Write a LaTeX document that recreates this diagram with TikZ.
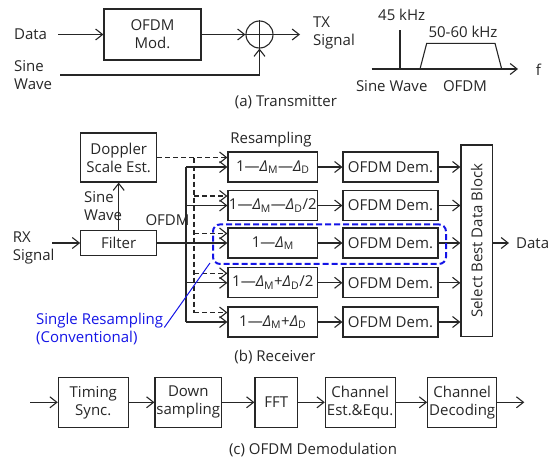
\documentclass[tikz,border=0pt]{standalone}
\usepackage{fontspec}
\setmainfont{Open Sans}
\usetikzlibrary{arrows.meta}
\definecolor{bl}{RGB}{20,20,230}
\newcommand\dlM{\textit{Δ}\textsubscript{M}}
\newcommand\dlD{\textit{Δ}\textsubscript{D}}
\begin{document}
\begin{tikzpicture}[x=1pt,y=-1pt,
  every node/.style={font=\fontsize{15}{18}\selectfont, text=black!85},
  ln/.style={line width=1.1pt, draw=black!85},
  arr/.style={ln, -{Straight Barb[length=7pt,width=11pt,line width=1.1pt]}},
  box/.style={ln, draw, rectangle, inner sep=0pt, align=center},
  lbl/.style={inner sep=0pt, align=left},
  dsh/.style={dash pattern=on 5pt off 3pt},
]
\useasboundingbox (0,0) rectangle (552,458);

% ---------------- (a) Transmitter
\node[box, minimum width=97pt, minimum height=51pt] (mod) at (152.5,34.5) {OFDM\\Mod.};
\node[lbl] (data) at (30.6,34.5) {Data};
\node[lbl, anchor=west] (sinetx) at (14,75) {Sine\\Wave};
\node[circle, ln, draw, minimum size=27pt, inner sep=0pt] (sum) at (259.5,34.5) {};
\draw[ln] (sum.north) -- (sum.south) (sum.west) -- (sum.east);
\node[lbl, anchor=west] (tx) at (313,33) {TX\\Signal};
\coordinate (txend) at (300,34.5);
\draw[arr] ([xshift=11pt]data.east) -- (mod.west);
\draw[arr] (mod.east) -- (sum.west);
\draw[arr] (sum.east) -- (txend);
\draw[arr] ([xshift=8pt]sinetx.east) -| (sum.south);

% spectrum
\coordinate (ax0) at (371.7,69);
\coordinate (ax1) at (518,69);
\draw[arr] (ax0) -- (ax1);
\node[lbl] (f) at (538.5,70) {f};
\coordinate (s0) at (400,69);
\coordinate (s1) at (400,30);
\draw[ln] (s0) -- (s1);
\coordinate (t0) at (420,69);
\coordinate (t1) at (426.7,43.3);
\coordinate (t2) at (495,43.3);
\coordinate (t3) at (501.7,69);
\draw[ln] (t0) -- (t1) -- (t2) -- (t3);
\draw[ln, line width=2pt] (t0) -- (t3);
\node[lbl] (k45) at (401.7,15) {45 kHz};
\node[lbl] (k50) at (463,32) {50-60 kHz};
\node[lbl] (swl) at (391.7,86) {Sine Wave};
\node[lbl] (ofl) at (465,86) {OFDM};
\node[lbl] (capa) at (286,102) {(a) Transmitter};

% ---------------- (b) Receiver
\node[box, minimum width=76pt, minimum height=49pt] (dop) at (118.7,157.5) {Doppler\\Scale Est.};
\node[box, minimum width=76pt, minimum height=25pt] (filt) at (118.7,243) {Filter};
\node[lbl, anchor=west] (rx) at (12.7,247.5) {RX\\Signal};
\coordinate (rxs) at (52,243);
\draw[arr] (rxs) -- (filt.west);
\draw[arr] (filt.north) -- (dop.south);
\node[lbl, anchor=west] (sw2) at (84,206.5) {Sine\\Wave};
\node[lbl] (ofdm2) at (167.5,220) {OFDM};
\node[lbl] (rs) at (271,140) {Resampling};

\node[box, minimum width=89.7pt, minimum height=30pt] (r1) at (272.8,167) {1—\dlM—\dlD};
\node[box, minimum width=89.7pt, minimum height=30pt] (r2) at (272.8,205.5) {1—\dlM—\dlD/2};
\node[box, minimum width=89.7pt, minimum height=30pt] (r3) at (272.8,243) {1—\dlM};
\node[box, minimum width=89.7pt, minimum height=30pt] (r4) at (272.8,282.8) {1—\dlM+\dlD/2};
\node[box, minimum width=89.7pt, minimum height=30pt] (r5) at (272.8,322) {1—\dlM+\dlD};

\node[box, minimum width=95pt, minimum height=30pt] (m1) at (390.5,167) {OFDM Dem.};
\node[box, minimum width=95pt, minimum height=30pt] (m2) at (390.5,205.5) {OFDM Dem.};
\node[box, minimum width=95pt, minimum height=30pt] (m3) at (390.5,243) {OFDM Dem.};
\node[box, minimum width=95pt, minimum height=30pt] (m4) at (390.5,282.8) {OFDM Dem.};
\node[box, minimum width=95pt, minimum height=30pt] (m5) at (390.5,322) {OFDM Dem.};

\node[box, minimum width=31.7pt, minimum height=191.7pt] (sel) at (476.8,240.8) {\rotatebox{90}{Select Best Data Block}};
\node[lbl, anchor=west] (dout) at (516,243) {Data};
\draw[arr] (sel.east |- dout.west) -- ([xshift=-7pt]dout.west);

% solid bus
\coordinate (sb) at (186,0);
\coordinate (db) at (194,0);
\draw[arr] (filt.east) -- (filt.east -| r3.west);
\draw[ln] (sb |- r1.west) -- (sb |- r5.west);
\draw[arr] (sb |- r1.west) -- (r1.west);
\draw[arr] (sb |- r2.west) -- (r2.west);
\draw[arr] (sb |- r4.west) -- (r4.west);
\draw[arr] (sb |- r5.west) -- (r5.west);

% dashed bus
\coordinate (d2) at ([yshift=9.5pt]r2.west);
\coordinate (d3) at ([yshift=9.5pt]r3.west);
\coordinate (d4) at ([yshift=9.5pt]r4.west);
\coordinate (d5) at ([yshift=9.5pt]r5.west);
\draw[arr, dsh] (dop.east) -- (dop.east -| r1.west);
\draw[ln, dsh] (db |- dop.east) -- (db |- d5);
\draw[arr, dsh] (db |- d2) -- (d2);
\draw[arr, dsh] (db |- d3) -- (d3);
\draw[arr, dsh] (db |- d4) -- (d4);
\draw[arr, dsh] (db |- d5) -- (d5);

% resampler -> demod -> select
\draw[arr] (r1.east) -- (m1.west);
\draw[arr] (r2.east) -- (m2.west);
\draw[arr] (r3.east) -- (m3.west);
\draw[arr] (r4.east) -- (m4.west);
\draw[arr] (r5.east) -- (m5.west);
\draw[arr] (m1.east) -- (m1.east -| sel.west);
\draw[arr] (m2.east) -- (m2.east -| sel.west);
\draw[arr] (m3.east) -- (m3.east -| sel.west);
\draw[arr] (m4.east) -- (m4.east -| sel.west);
\draw[arr] (m5.east) -- (m5.east -| sel.west);

% conventional highlight
\node[draw=bl, line width=2pt, dash pattern=on 6pt off 3pt, rounded corners=7pt,
      minimum width=233pt, minimum height=39.5pt, inner sep=0pt] (bbox) at (329.5,244.2) {};
\node[lbl, anchor=west, text=bl] (blbl) at (36,328.5) {Single Resampling\\(Conventional)};
\draw[bl, line width=1pt] ([xshift=1pt,yshift=1pt]blbl.east) -- ([shift={(-2pt,2pt)}]bbox.south west);

\node[lbl] (capb) at (275,357.3) {(b) Receiver};

% ---------------- (c) OFDM Demodulation
\node[box, minimum width=70pt, minimum height=50pt] (b1) at (93.3,402.3) {Timing\\Sync.};
\node[box, minimum width=66.7pt, minimum height=50pt] (b2) at (188.3,402.3) {Down\\sampling};
\node[box, minimum width=42.7pt, minimum height=50pt] (b3) at (276.3,402.3) {FFT};
\node[box, minimum width=69.7pt, minimum height=50pt] (b4) at (360.2,402.3) {Channel\\Est.\&Equ.};
\node[box, minimum width=69pt, minimum height=50pt] (b5) at (462.2,402.3) {Channel\\Decoding};
\coordinate (cin) at (30,402.3);
\coordinate (cout) at (524.3,402.3);
\draw[arr] (cin) -- (b1.west);
\draw[arr] (b1.east) -- (b2.west);
\draw[arr] (b2.east) -- (b3.west);
\draw[arr] (b3.east) -- (b4.west);
\draw[arr] (b4.east) -- (b5.west);
\draw[arr] (b5.east) -- (cout);
\node[lbl] (capc) at (313,450) {(c) OFDM Demodulation};
\end{tikzpicture}
\end{document}
